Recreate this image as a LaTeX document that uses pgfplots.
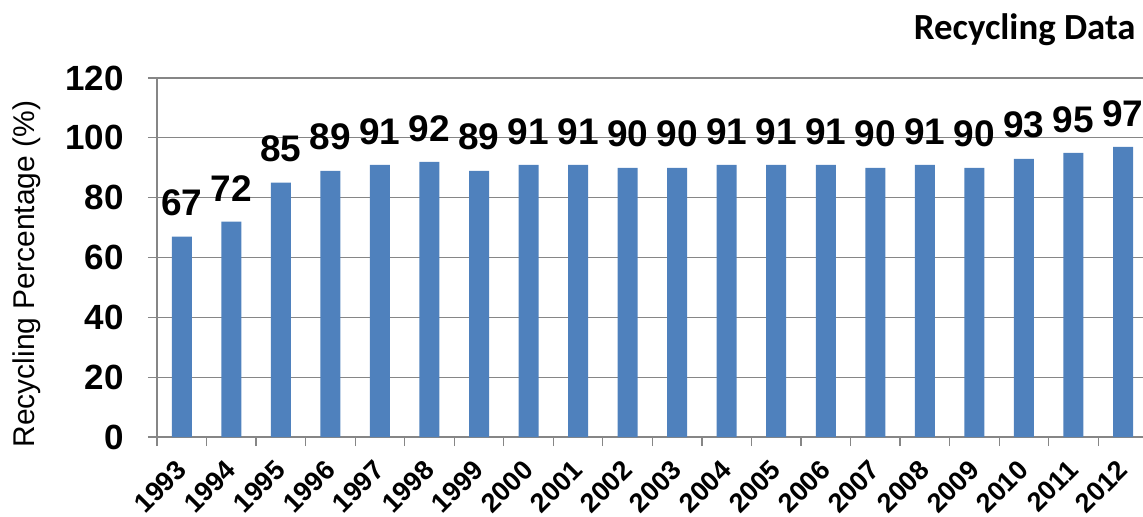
\documentclass[border=0pt]{standalone}
\usepackage{fontspec}
\setmainfont{Liberation Sans}
\newfontfamily\calibri{Carlito}
\usepackage{pgfplots}
\pgfplotsset{compat=1.18}
\definecolor{barblue}{HTML}{4F81BD}
\definecolor{axgray}{HTML}{868686}
\begin{document}
\begin{tikzpicture}
\useasboundingbox (-78.5pt,-39.5pt) rectangle (493pt,218.5pt);
\begin{axis}[
  at={(0,0)}, anchor=south west,
  scale only axis, width=492.9pt, height=179.5pt,
  xmin=-0.5, xmax=19.4, ymin=0, ymax=120,
  axis x line=bottom, axis y line=left,
  axis line style={-, draw=axgray, line width=0.65pt},
  ybar, bar width=10pt,
  ytick={0,20,...,120},
  ymajorgrids, grid style={draw=axgray, line width=0.65pt},
  xtick={-0.5,0.5,...,18.5},
  xticklabels={1993,1994,1995,1996,1997,1998,1999,2000,2001,2002,2003,2004,2005,2006,2007,2008,2009,2010,2011,2012},
  tick style={draw=axgray, line width=0.65pt},
  major tick length=4.5pt,
  tick align=outside,
  /pgf/number format/assume math mode=true,
  yticklabel style={font=\fontsize{17.5}{20}\selectfont\bfseries, anchor=east, inner sep=0pt, xshift=-12pt},
  xticklabel style={font=\fontsize{13.5}{15}\selectfont\bfseries, xshift=12.38pt, yshift=-9.5pt, rotate=45, anchor=east, inner sep=0pt},
  nodes near coords,
  every node near coord/.append style={font=\fontsize{18.5}{21}\selectfont\bfseries, anchor=south, inner sep=0pt, yshift=10pt, text=black},
  ylabel={Recycling Percentage (\%)},
  ylabel style={at={(axis description cs:-0.1319,0.454)}, anchor=center, font=\fontsize{15}{18}\selectfont, inner sep=0pt},
  title={Recycling Data},
  title style={at={(axis description cs:0.9931,1.0752)}, anchor=base east, font=\calibri\bfseries\fontsize{18.4}{21}\selectfont, inner sep=0pt},
]
\addplot[fill=barblue, draw=none] coordinates {
(0,67) (1,72) (2,85) (3,89) (4,91) (5,92) (6,89) (7,91) (8,91) (9,90)
(10,90) (11,91) (12,91) (13,91) (14,90) (15,91) (16,90) (17,93) (18,95) (19,97)};
\end{axis}
\end{tikzpicture}
\end{document}
